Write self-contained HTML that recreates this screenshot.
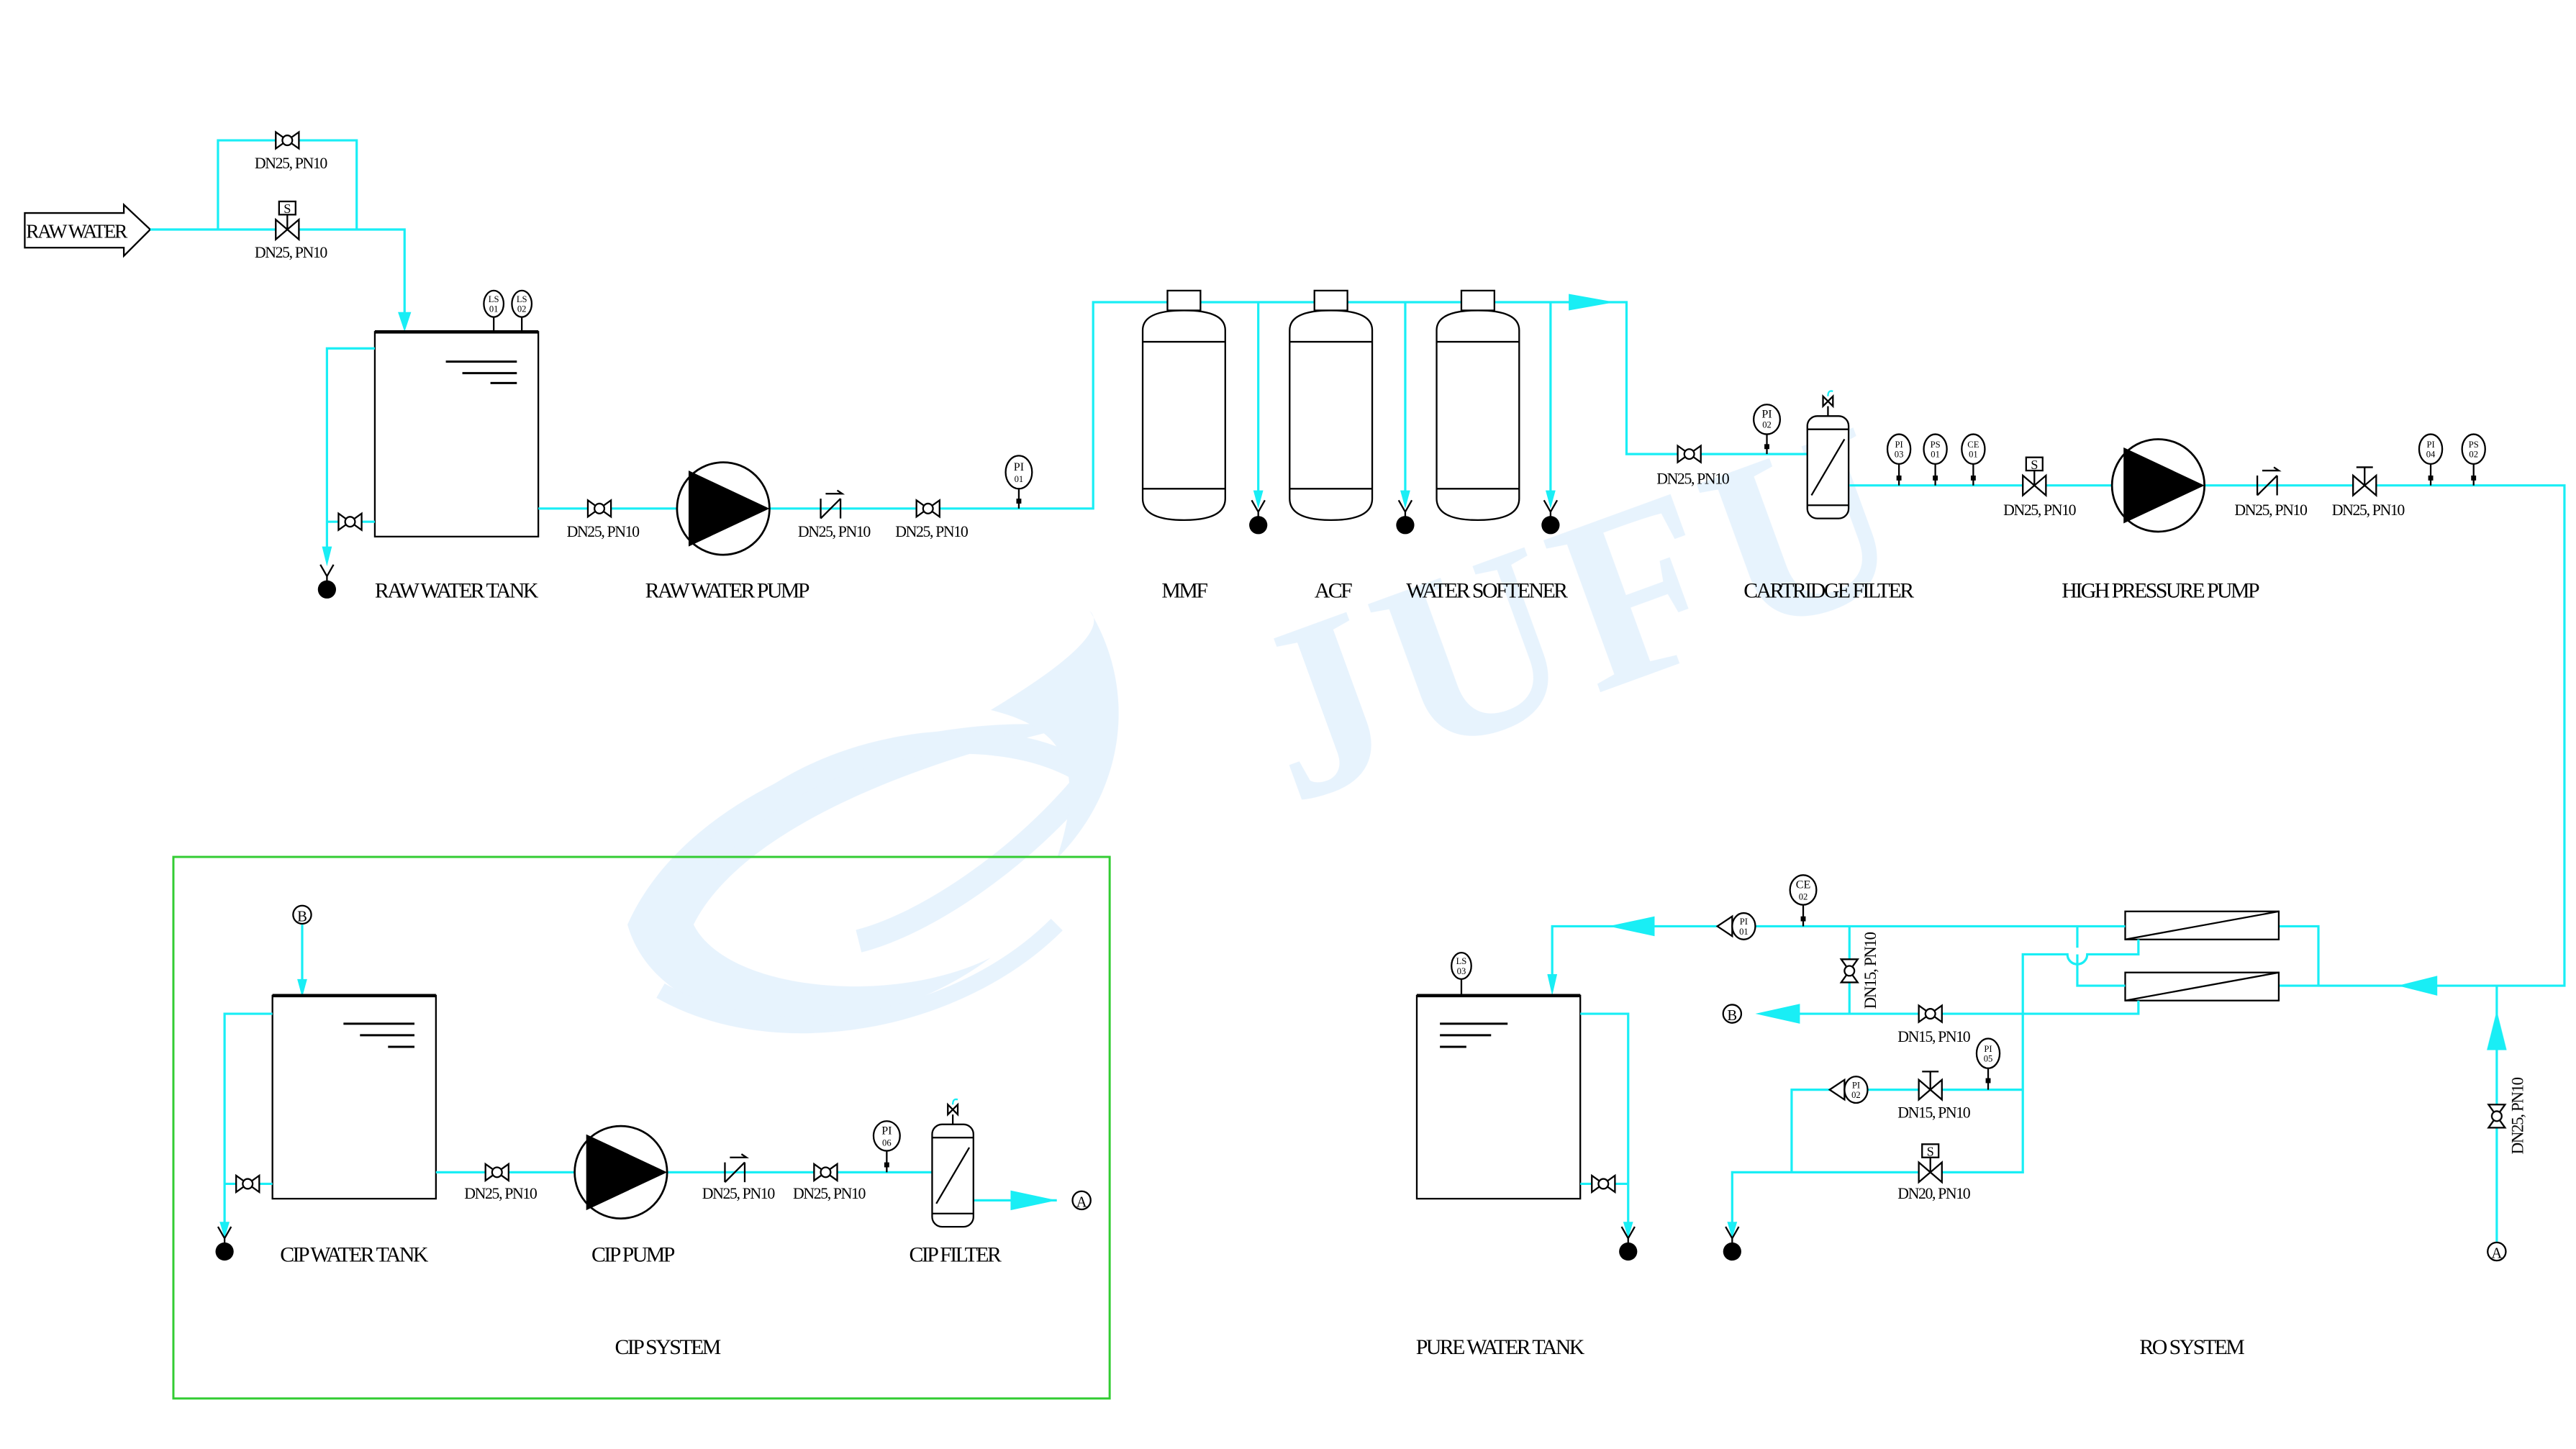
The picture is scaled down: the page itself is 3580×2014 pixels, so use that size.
<!DOCTYPE html>
<html><head><meta charset="utf-8"><style>
html,body{margin:0;padding:0;background:#fff;}
svg{display:block;}
text{font-family:"Liberation Serif",serif;fill:#000;}
.p{stroke:#19eef5;stroke-width:1.4;fill:none;}
.k{stroke:#000;stroke-width:1;fill:#fff;}
.kn{stroke:#000;stroke-width:1;fill:none;}
.dn{font-size:9.5px;text-anchor:middle;letter-spacing:-0.6px;}
.lb{font-size:13px;text-anchor:middle;letter-spacing:-1.1px;}
.it{font-size:5.5px;text-anchor:middle;}
.ar{fill:#19eef5;}
</style></head><body>
<svg width="3580" height="2014" viewBox="0 0 1560 877.6" xmlns="http://www.w3.org/2000/svg">
<defs>
<g id="gv"><path d="M-7,-5 L7,5 L7,-5 L-7,5 Z" class="k"/><circle r="3" class="k"/></g>
<g id="sv"><path d="M-7,-6 L7,6 L7,-6 L-7,6 Z" class="k"/><line x1="0" y1="0" x2="0" y2="-9" class="kn"/><rect x="-5" y="-17" width="10" height="8" class="k"/><text x="0" y="-10" style="font-size:8px;text-anchor:middle">S</text></g>
<g id="gl"><path d="M-7,-6 L7,6 L7,-6 L-7,6 Z" class="k"/><line x1="0" y1="0" x2="0" y2="-11" class="kn"/><line x1="-5" y1="-11" x2="5" y2="-11" class="kn"/></g>
<g id="ck"><line x1="-6" y1="6" x2="6" y2="-6" class="kn"/><line x1="-6" y1="6" x2="-6" y2="-6" class="kn"/><line x1="6" y1="-6" x2="6" y2="6" class="kn"/><path d="M-3,-9 L7,-9 L4,-11" class="kn"/></g>
<g id="pump"><circle r="28" fill="#fff" stroke="#000" stroke-width="1.2"/><polygon points="-21,-23 28,0 -21,23" fill="#000"/></g>
<g id="drain"><path d="M-4,-15 L0,-8 L4,-15 M0,-8 V-4" class="kn"/><circle r="5.5" fill="#000"/></g>
<g id="vessel"><path d="M-25,20 Q-25,8 0,8 Q25,8 25,20 L25,122 Q25,135 0,135 Q-25,135 -25,122 Z" class="k" stroke-width="1.1"/><line x1="-25" y1="27" x2="25" y2="27" class="kn"/><line x1="-25" y1="116" x2="25" y2="116" class="kn"/><rect x="-10" y="-4" width="20" height="12" class="k"/></g>
<g id="cart"><rect x="-12.5" y="0" width="25" height="62" rx="6" class="k"/><line x1="-12.5" y1="8" x2="12.5" y2="8" class="kn"/><line x1="-12.5" y1="54" x2="12.5" y2="54" class="kn"/><line x1="-10" y1="48" x2="10" y2="14" class="kn"/><line x1="0" y1="0" x2="0" y2="-6" class="kn"/><path d="M-3,-12 L3,-6 L3,-12 L-3,-6 Z" class="k"/><path d="M0,-12 q0,-4 3,-3" stroke="#19eef5" fill="none"/></g>
<g id="rom"><rect x="0" y="0" width="93" height="17" class="k" stroke-width="1.3"/><line x1="0" y1="17" x2="93" y2="0" class="kn" stroke-width="1.3"/></g>
</defs>

<!-- watermark -->
<g opacity="0.5">
<text x="960" y="420" transform="rotate(-20 960 380)" style="font-size:150px;font-weight:bold;fill:#cfe6fb;text-anchor:middle;letter-spacing:6px">JUFU</text>
<path d="M380,560 C420,470 560,430 650,440 C560,460 450,500 420,560 C440,600 540,610 600,580 C520,640 400,630 380,560 Z" fill="#cfe6fb"/>
<path d="M430,520 C480,450 600,430 660,470 C620,520 560,560 520,570" stroke="#cfe6fb" stroke-width="14" fill="none"/>
<path d="M600,430 C650,400 670,380 660,370 C690,420 680,480 640,520 C660,460 640,440 600,430 Z" fill="#cfe6fb"/>
<path d="M400,600 C470,640 580,620 640,560" stroke="#cfe6fb" stroke-width="10" fill="none"/>
</g>

<!-- RAW WATER inlet -->
<path d="M15,129 L75,129 L75,124 L91,139 L75,155 L75,150 L15,150 Z" class="k"/>
<text x="46" y="144" style="font-size:12px;text-anchor:middle;letter-spacing:-1px">RAW WATER</text>
<path class="p" d="M91,139 H245 V196 M132,139 V85 H216 V139"/>
<polygon class="ar" points="241,189 249,189 245,201"/>
<use href="#gv" x="174" y="85"/>
<use href="#sv" x="174" y="139"/>
<text class="dn" x="176" y="102">DN25, PN10</text>
<text class="dn" x="176" y="156">DN25, PN10</text>

<!-- RAW WATER TANK -->
<rect x="227" y="201" width="99" height="124" class="k" stroke-width="1.2"/>
<line x1="227" y1="201" x2="326" y2="201" stroke="#000" stroke-width="2"/>
<path d="M270,219 H313 M280,226 H313 M297,232 H313" stroke="#000" stroke-width="1.3"/>
<line x1="299" y1="190" x2="299" y2="201" class="kn"/><line x1="316" y1="190" x2="316" y2="201" class="kn"/>
<ellipse cx="299" cy="184" rx="6" ry="8" class="k"/><text class="it" x="299" y="183">LS</text><text class="it" x="299" y="189">01</text>
<ellipse cx="316" cy="184" rx="6" ry="8" class="k"/><text class="it" x="316" y="183">LS</text><text class="it" x="316" y="189">02</text>
<path class="p" d="M227,211 H198 V334 M198,316 H227"/>
<polygon class="ar" points="195,331 201,331 198,343"/>
<use href="#gv" x="212" y="316"/>
<use href="#drain" x="198" y="357"/>
<text class="lb" x="276" y="362">RAW WATER TANK</text>

<path class="p" d="M326,308 H662 V183 H985 V275 H1095"/>
<use href="#gv" x="363" y="308"/>
<text class="dn" x="365" y="325">DN25, PN10</text>
<use href="#pump" x="438" y="308"/>
<use href="#ck" x="503" y="308"/>
<text class="dn" x="505" y="325">DN25, PN10</text>
<use href="#gv" x="562" y="308"/>
<text class="dn" x="564" y="325">DN25, PN10</text>
<line x1="617" y1="294" x2="617" y2="308" class="kn"/><rect x="615.5" y="302" width="3" height="3"/>
<ellipse cx="617" cy="286" rx="8" ry="10" class="k"/><text class="it" x="617" y="285" style="font-size:7px">PI</text><text class="it" x="617" y="292">01</text>
<text class="lb" x="440" y="362">RAW WATER PUMP</text>
<polygon class="ar" points="950,178 950,188 978,183"/>

<!-- vessels -->
<use href="#vessel" x="717" y="180"/>
<use href="#vessel" x="806" y="180"/>
<use href="#vessel" x="895" y="180"/>
<path class="p" d="M762,183 V300 M851,183 V300 M939,183 V300"/>
<polygon class="ar" points="759,297 765,297 762,308"/>
<polygon class="ar" points="848,297 854,297 851,308"/>
<polygon class="ar" points="936,297 942,297 939,308"/>
<use href="#drain" x="762" y="318"/><use href="#drain" x="851" y="318"/><use href="#drain" x="939" y="318"/>
<text class="lb" x="717" y="362">MMF</text>
<text class="lb" x="807" y="362">ACF</text>
<text class="lb" x="900" y="362">WATER SOFTENER</text>

<!-- cartridge filter -->
<use href="#gv" x="1023" y="275"/>
<text class="dn" x="1025" y="293">DN25, PN10</text>
<line x1="1070" y1="262" x2="1070" y2="275" class="kn"/><rect x="1068.5" y="269" width="3" height="3"/>
<ellipse cx="1070" cy="254" rx="8" ry="9" class="k"/><text class="it" x="1070" y="253" style="font-size:7px">PI</text><text class="it" x="1070" y="259">02</text>
<use href="#cart" x="1107" y="252"/>
<text class="lb" x="1107" y="362">CARTRIDGE FILTER</text>

<path class="p" d="M1120,294 H1553 V597 H1380 M1404,597 V561 H1380"/>
<g>
<line x1="1150" y1="280" x2="1150" y2="294" class="kn"/><rect x="1148.5" y="288" width="3" height="3"/>
<ellipse cx="1150" cy="272" rx="7" ry="9" class="k"/><text class="it" x="1150" y="271">PI</text><text class="it" x="1150" y="277">03</text>
<line x1="1172" y1="280" x2="1172" y2="294" class="kn"/><rect x="1170.5" y="288" width="3" height="3"/>
<ellipse cx="1172" cy="272" rx="7" ry="9" class="k"/><text class="it" x="1172" y="271">PS</text><text class="it" x="1172" y="277">01</text>
<line x1="1195" y1="280" x2="1195" y2="294" class="kn"/><rect x="1193.5" y="288" width="3" height="3"/>
<ellipse cx="1195" cy="272" rx="7" ry="9" class="k"/><text class="it" x="1195" y="271">CE</text><text class="it" x="1195" y="277">01</text>
<line x1="1472" y1="280" x2="1472" y2="294" class="kn"/><rect x="1470.5" y="288" width="3" height="3"/>
<ellipse cx="1472" cy="272" rx="7" ry="9" class="k"/><text class="it" x="1472" y="271">PI</text><text class="it" x="1472" y="277">04</text>
<line x1="1498" y1="280" x2="1498" y2="294" class="kn"/><rect x="1496.5" y="288" width="3" height="3"/>
<ellipse cx="1498" cy="272" rx="7" ry="9" class="k"/><text class="it" x="1498" y="271">PS</text><text class="it" x="1498" y="277">02</text>
</g>
<use href="#sv" x="1232" y="294"/>
<text class="dn" x="1235" y="312">DN25, PN10</text>
<use href="#pump" x="1307" y="294"/>
<use href="#ck" x="1373" y="294"/>
<text class="dn" x="1375" y="312">DN25, PN10</text>
<use href="#gl" x="1432" y="294"/>
<text class="dn" x="1434" y="312">DN25, PN10</text>
<text class="lb" x="1308" y="362">HIGH PRESSURE PUMP</text>
<polygon class="ar" points="1452,597 1476,591 1476,603"/>

<!-- RO system -->
<use href="#rom" x="1287" y="552"/>
<use href="#rom" x="1287" y="589"/>
<path class="p" d="M1287,561 H940 V597 M1287,597 H1258 V578 M1258,574 V561 M1295,569 V578 H1264 A5,5 0 0 1 1252,578 H1225 V710 H1049 V744 M1295,606 V614 H1068 M1120,561 V614 M1225,660 H1085 V710"/>
<polygon class="ar" points="974,561 1002,555 1002,567"/>
<polygon class="ar" points="937,590 943,590 940,603"/>
<polygon class="ar" points="1063,614 1090,608 1090,620"/>
<polygon class="ar" points="1046,740 1052,740 1049,750"/>
<circle cx="1049" cy="614" r="5.5" class="k"/><text x="1049" y="618" style="font-size:9px;text-anchor:middle">B</text>
<path d="M1040,561 L1049,555 L1049,567 Z" class="k"/><ellipse cx="1056" cy="561" rx="7" ry="8" class="k"/><text class="it" x="1056" y="560">PI</text><text class="it" x="1056" y="566">01</text>
<line x1="1092" y1="548" x2="1092" y2="561" class="kn"/><rect x="1090.5" y="555" width="3" height="3"/>
<ellipse cx="1092" cy="539" rx="8" ry="9" class="k"/><text class="it" x="1092" y="538" style="font-size:7px">CE</text><text class="it" x="1092" y="545">02</text>
<g transform="translate(1120,588) rotate(90)"><use href="#gv"/></g>
<text class="dn" x="1136" y="588" transform="rotate(-90 1136 588)" style="font-size:10px">DN15, PN10</text>
<use href="#gv" x="1169" y="614"/>
<text class="dn" x="1171" y="631">DN15, PN10</text>
<use href="#gl" x="1169" y="660"/>
<text class="dn" x="1171" y="677">DN15, PN10</text>
<line x1="1204" y1="646" x2="1204" y2="660" class="kn"/><rect x="1202.5" y="653" width="3" height="3"/>
<ellipse cx="1204" cy="638" rx="7" ry="9" class="k"/><text class="it" x="1204" y="637">PI</text><text class="it" x="1204" y="643">05</text>
<path d="M1108,660 L1117,654 L1117,666 Z" class="k"/><ellipse cx="1124" cy="660" rx="7" ry="8" class="k"/><text class="it" x="1124" y="659">PI</text><text class="it" x="1124" y="665">02</text>
<use href="#sv" x="1169" y="710"/>
<text class="dn" x="1171" y="726">DN20, PN10</text>
<use href="#drain" x="1049" y="758"/>
<path class="p" d="M1512,597 V752"/>
<polygon class="ar" points="1512,612 1506,636 1518,636"/>
<g transform="translate(1512,676) rotate(90)"><use href="#gv"/></g>
<text class="dn" x="1528" y="676" transform="rotate(-90 1528 676)" style="font-size:10px">DN25, PN10</text>
<circle cx="1512" cy="758" r="5.5" class="k"/><text x="1512" y="762" style="font-size:9px;text-anchor:middle">A</text>
<text class="lb" x="1327" y="820">RO SYSTEM</text>

<!-- PURE WATER TANK -->
<rect x="858" y="603" width="99" height="123" class="k" stroke-width="1.2"/>
<line x1="858" y1="603" x2="957" y2="603" stroke="#000" stroke-width="2"/>
<path d="M872,620 H913 M872,627 H903 M872,634 H888" stroke="#000" stroke-width="1.3"/>
<line x1="885" y1="592" x2="885" y2="603" class="kn"/>
<ellipse cx="885" cy="585" rx="6" ry="8" class="k"/><text class="it" x="885" y="584">LS</text><text class="it" x="885" y="590">03</text>
<path class="p" d="M957,614 H986 V744 M957,717 H986"/>
<polygon class="ar" points="983,740 989,740 986,750"/>
<use href="#gv" x="971" y="717"/>
<use href="#drain" x="986" y="758"/>
<text class="lb" x="908" y="820">PURE WATER TANK</text>

<!-- CIP -->
<rect x="105" y="519" width="567" height="328" fill="none" stroke="#3c3" stroke-width="1.3"/>
<circle cx="183" cy="554" r="5.5" class="k"/><text x="183" y="558" style="font-size:9px;text-anchor:middle">B</text>
<path class="p" d="M183,560 V598"/>
<polygon class="ar" points="180,593 186,593 183,604"/>
<rect x="165" y="603" width="99" height="123" class="k" stroke-width="1.2"/>
<line x1="165" y1="603" x2="264" y2="603" stroke="#000" stroke-width="2"/>
<path d="M208,620 H251 M218,627 H251 M235,634 H251" stroke="#000" stroke-width="1.3"/>
<path class="p" d="M165,614 H136 V744 M136,717 H165"/>
<polygon class="ar" points="133,740 139,740 136,750"/>
<use href="#gv" x="150" y="717"/>
<use href="#drain" x="136" y="758"/>
<path class="p" d="M264,710 H565 M590,727 H640"/>
<use href="#gv" x="301" y="710"/>
<text class="dn" x="303" y="726">DN25, PN10</text>
<use href="#pump" x="376" y="710"/>
<use href="#ck" x="445" y="710"/>
<text class="dn" x="447" y="726">DN25, PN10</text>
<use href="#gv" x="500" y="710"/>
<text class="dn" x="502" y="726">DN25, PN10</text>
<line x1="537" y1="697" x2="537" y2="710" class="kn"/><rect x="535.5" y="704" width="3" height="3"/>
<ellipse cx="537" cy="688" rx="8" ry="9" class="k"/><text class="it" x="537" y="687" style="font-size:7px">PI</text><text class="it" x="537" y="694">06</text>
<use href="#cart" x="577" y="681"/>
<polygon class="ar" points="612,721 612,733 640,727"/>
<circle cx="655" cy="727" r="5.5" class="k"/><text x="655" y="731" style="font-size:9px;text-anchor:middle">A</text>
<text class="lb" x="214" y="764">CIP WATER TANK</text>
<text class="lb" x="383" y="764">CIP PUMP</text>
<text class="lb" x="578" y="764">CIP FILTER</text>
<text class="lb" x="404" y="820">CIP SYSTEM</text>
</svg>
</body></html>
